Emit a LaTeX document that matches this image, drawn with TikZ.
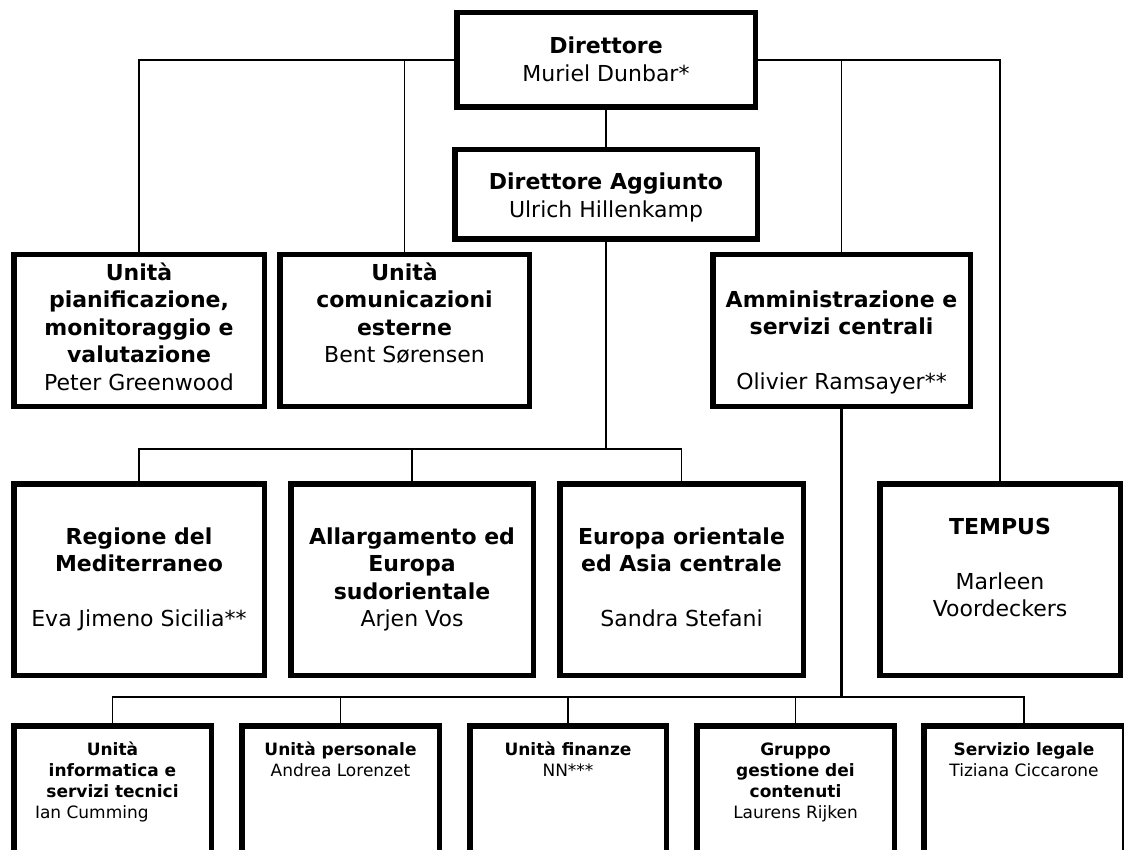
\documentclass[tikz,border=0pt]{standalone}
\usepackage{fontspec}
\setmainfont{DejaVu Sans}
\usepackage{tikz}
\usetikzlibrary{calc}
\newcommand{\bigtxt}{\fontsize{22}{27.5}\selectfont}
\newcommand{\smalltxt}{\fontsize{17}{21}\selectfont}
% width, height, first baseline, text
\newcommand{\boxtext}[4]{\parbox[c][#2pt][t]{#1pt}{\centering\rule{0pt}{#3pt}#4}}

\begin{document}
\begin{tikzpicture}[x=1pt, y=-1pt,
  unit/.style={draw, line width=5.5pt, inner sep=0pt, font=\bigtxt},
  subunit/.style={unit, font=\smalltxt},
  link/.style={line width=1.3pt}]
  \useasboundingbox (0,0) rectangle (1124,850);
  \clip (0,0) rectangle (1124,850);
  % direzione
  \node[unit] (dir) at (606,60) {\boxtext{298.5}{94.5}{41.25}{\textbf{Direttore}\\Muriel Dunbar*}};
  \node[unit] (dagg) at (606,194.5) {\boxtext{302.5}{89.5}{40.25}{\textbf{Direttore Aggiunto}\\Ulrich Hillenkamp}};
  % unita di staff
  \node[unit] (pian) at (139,330.5) {\boxtext{250.5}{151.5}{25.25}{\textbf{Unità}\\\textbf{pianificazione,}\\\textbf{monitoraggio e}\\\textbf{valutazione}\\Peter Greenwood}};
  \node[unit] (com) at (404.5,330.5) {\boxtext{249.5}{151.5}{25.25}{\textbf{Unità}\\\textbf{comunicazioni}\\\textbf{esterne}\\Bent Sørensen}};
  \node[unit] (amm) at (841.5,330.5) {\boxtext{257.5}{151.5}{52.25}{\textbf{Amministrazione e}\\\textbf{servizi centrali}\\[27.5pt]Olivier Ramsayer**}};
  % dipartimenti
  \node[unit] (reg) at (139,579.5) {\boxtext{250.5}{191.5}{60.25}{\textbf{Regione del}\\\textbf{Mediterraneo}\\[27.5pt]Eva Jimeno Sicilia**}};
  \node[unit] (all) at (412,579.5) {\boxtext{242.5}{191.5}{60.25}{\textbf{Allargamento ed}\\\textbf{Europa}\\\textbf{sudorientale}\\Arjen Vos}};
  \node[unit] (eur) at (681.5,579.5) {\boxtext{243.5}{191.5}{60.25}{\textbf{Europa orientale}\\\textbf{ed Asia centrale}\\[27.5pt]Sandra Stefani}};
  \node[unit] (tem) at (1000,579.5) {\boxtext{240.5}{191.5}{50.25}{\textbf{TEMPUS}\\[27.5pt]Marleen\\Voordeckers}};
  % servizi centrali
  \node[subunit] (inf) at (112.5,789) {\boxtext{197.5}{126.5}{29.25}{\textbf{Unità}\\\textbf{informatica e}\\\textbf{servizi tecnici}\\\makebox[155pt][l]{Ian Cumming}}};
  \node[subunit] (pers) at (340.5,789) {\boxtext{197.5}{126.5}{29.25}{\textbf{Unità personale}\\Andrea Lorenzet}};
  \node[subunit] (fin) at (568,789) {\boxtext{196.5}{126.5}{29.25}{\textbf{Unità finanze}\\NN***}};
  \node[subunit] (grp) at (795.5,789) {\boxtext{197.5}{126.5}{29.25}{\textbf{Gruppo}\\\textbf{gestione dei}\\\textbf{contenuti}\\Laurens Rijken}};
  \node[subunit] (leg) at (1024,789) {\boxtext{200.5}{126.5}{29.25}{\textbf{Servizio legale}\\Tiziana Ciccarone}};
  % collegamenti
  \draw[link] (dir.west) -| (pian.north);
  \draw[link] (dir.west) -| (com.north);
  \draw[link] (dir.east) -| (amm.north);
  \draw[link] (dir.east) -| (tem.north);
  \draw[link] (dir.south) -- (dagg.north);
  \coordinate (dbus) at (606,449);
  \draw[link] (dagg.south) -- (dbus);
  \draw[link] (reg.north) -- (reg.north |- dbus) -| (eur.north);
  \draw[link] (all.north) -- (all.north |- dbus);
  \coordinate (abus) at (841.5,697);
  \draw[line width=2.8pt] (amm.south) -- (abus);
  \draw[link] (inf.north) -- (inf.north |- abus) -| (leg.north);
  \foreach \n in {pers,fin,grp}
    \draw[link] (\n.north) -- (\n.north |- abus);
\end{tikzpicture}
\end{document}
